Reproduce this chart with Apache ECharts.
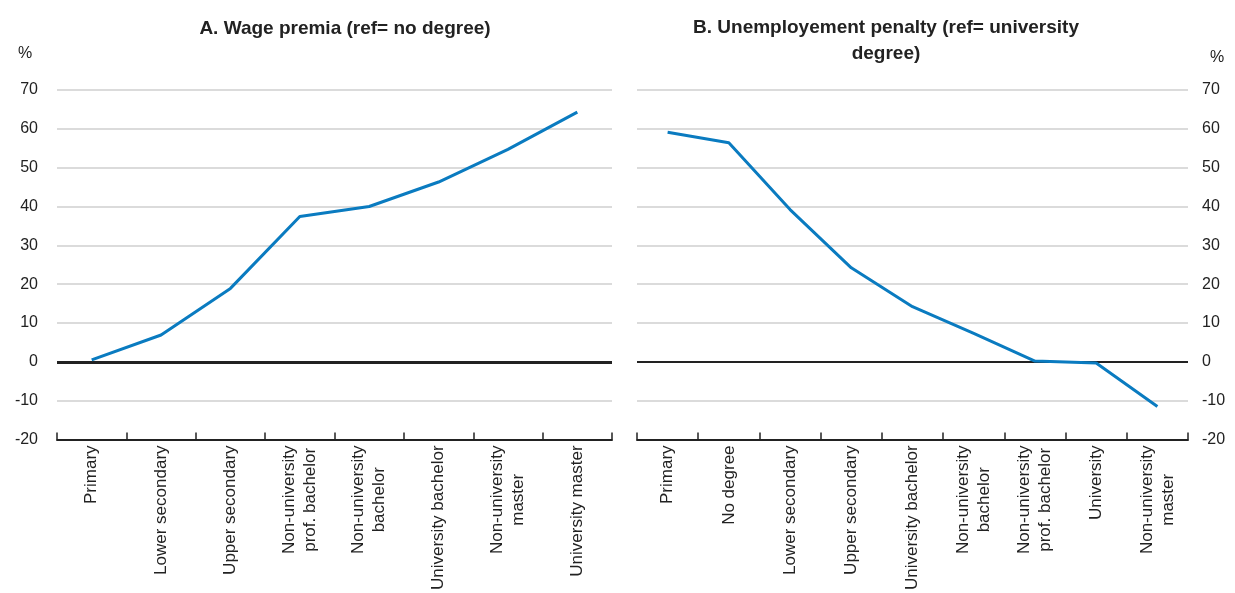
<!DOCTYPE html>
<html>
<head>
<meta charset="utf-8">
<script src="https://cdn.jsdelivr.net/npm/echarts@6/dist/echarts.min.js"></script>
<style>
html,body{margin:0;padding:0;background:#fff;}
#c{width:1235px;height:593px;}
</style>
</head>
<body>
<div id="c"></div>
<script>
const titleA = 'A. Wage premia (ref= no degree)';
const titleB = 'B. Unemployement penalty (ref= university\ndegree)';
const catsA = ['Primary', 'Lower secondary', 'Upper secondary', 'Non-university\nprof. bachelor', 'Non-university\nbachelor', 'University bachelor', 'Non-university\nmaster', 'University master'];
const valsA = [0.5, 6.9, 18.9, 37.4, 40.0, 46.3, 54.7, 64.3];
const catsB = ['Primary', 'No degree', 'Lower secondary', 'Upper secondary', 'University bachelor', 'Non-university\nbachelor', 'Non-university\nprof. bachelor', 'University', 'Non-university\nmaster'];
const valsB = [59.1, 56.4, 39.2, 24.2, 14.2, 7.3, 0.2, -0.3, -11.5];
const yMin = -20, yMax = 70, yStep = 10;

const FONT = '"Liberation Sans", Arial, sans-serif';
const TXT = '#222';
const BLUE = '#0A7BC0';

function xAxis(idx, cats) {
  return {
    type: 'category', gridIndex: idx, data: cats, boundaryGap: true,
    axisLine: {show: true, onZero: false, lineStyle: {color: '#222', width: 2}},
    axisTick: {show: true, inside: true, alignWithLabel: false, interval: 0, length: 7, lineStyle: {color: '#222', width: 1.5}},
    axisLabel: {
      rotate: 90, margin: 6, interval: 0,
      formatter: function (v) { return v.split('\n').map(function (s) { return '{c|' + s + '}'; }).join('\n'); },
      rich: {c: {align: 'center', fontFamily: FONT, fontSize: 17, color: TXT, lineHeight: 21}}
    },
    z: 5
  };
}
function yAxis(idx, pos, margin) {
  return {
    type: 'value', gridIndex: idx, position: pos, min: yMin, max: yMax, interval: yStep,
    axisLine: {show: false}, axisTick: {show: false},
    splitLine: {lineStyle: {color: '#cfcfcf', width: 1.5}},
    axisLabel: {margin: margin, fontFamily: FONT, fontSize: 16, color: TXT}
  };
}
function lineSeries(idx, vals, zw) {
  return {
    type: 'line', xAxisIndex: idx, yAxisIndex: idx, data: vals,
    symbol: 'none', lineStyle: {color: BLUE, width: 3}, z: 3,
    markLine: {
      silent: true, symbol: 'none', label: {show: false}, z: 2,
      lineStyle: {color: '#222', width: zw, type: 'solid'},
      data: [{yAxis: 0}]
    }
  };
}

const chart = echarts.init(document.getElementById('c'), null, {renderer: 'canvas'});
chart.setOption({
  animation: false,
  backgroundColor: '#fff',
  textStyle: {fontFamily: FONT},
  title: [
    {text: titleA, left: 340, top: 14, textAlign: 'center',
     textStyle: {fontFamily: FONT, fontSize: 19, fontWeight: 'bold', color: TXT}},
    {text: titleB, left: 881, top: 10, textAlign: 'center',
     textStyle: {fontFamily: FONT, fontSize: 19, fontWeight: 'bold', color: TXT, lineHeight: 26}},
    {text: '%', left: 13, top: 41, textStyle: {fontFamily: FONT, fontSize: 16, fontWeight: 'normal', color: TXT}},
    {text: '%', left: 1205, top: 45, textStyle: {fontFamily: FONT, fontSize: 16, fontWeight: 'normal', color: TXT}}
  ],
  grid: [
    {left: 57, width: 555, top: 90, bottom: 151},
    {left: 637, width: 551, top: 90, bottom: 151}
  ],
  xAxis: [xAxis(0, catsA), xAxis(1, catsB)],
  yAxis: [yAxis(0, 'left', 19), yAxis(1, 'right', 14)],
  series: [lineSeries(0, valsA, 3), lineSeries(1, valsB, 2)]
});
</script>
</body>
</html>
